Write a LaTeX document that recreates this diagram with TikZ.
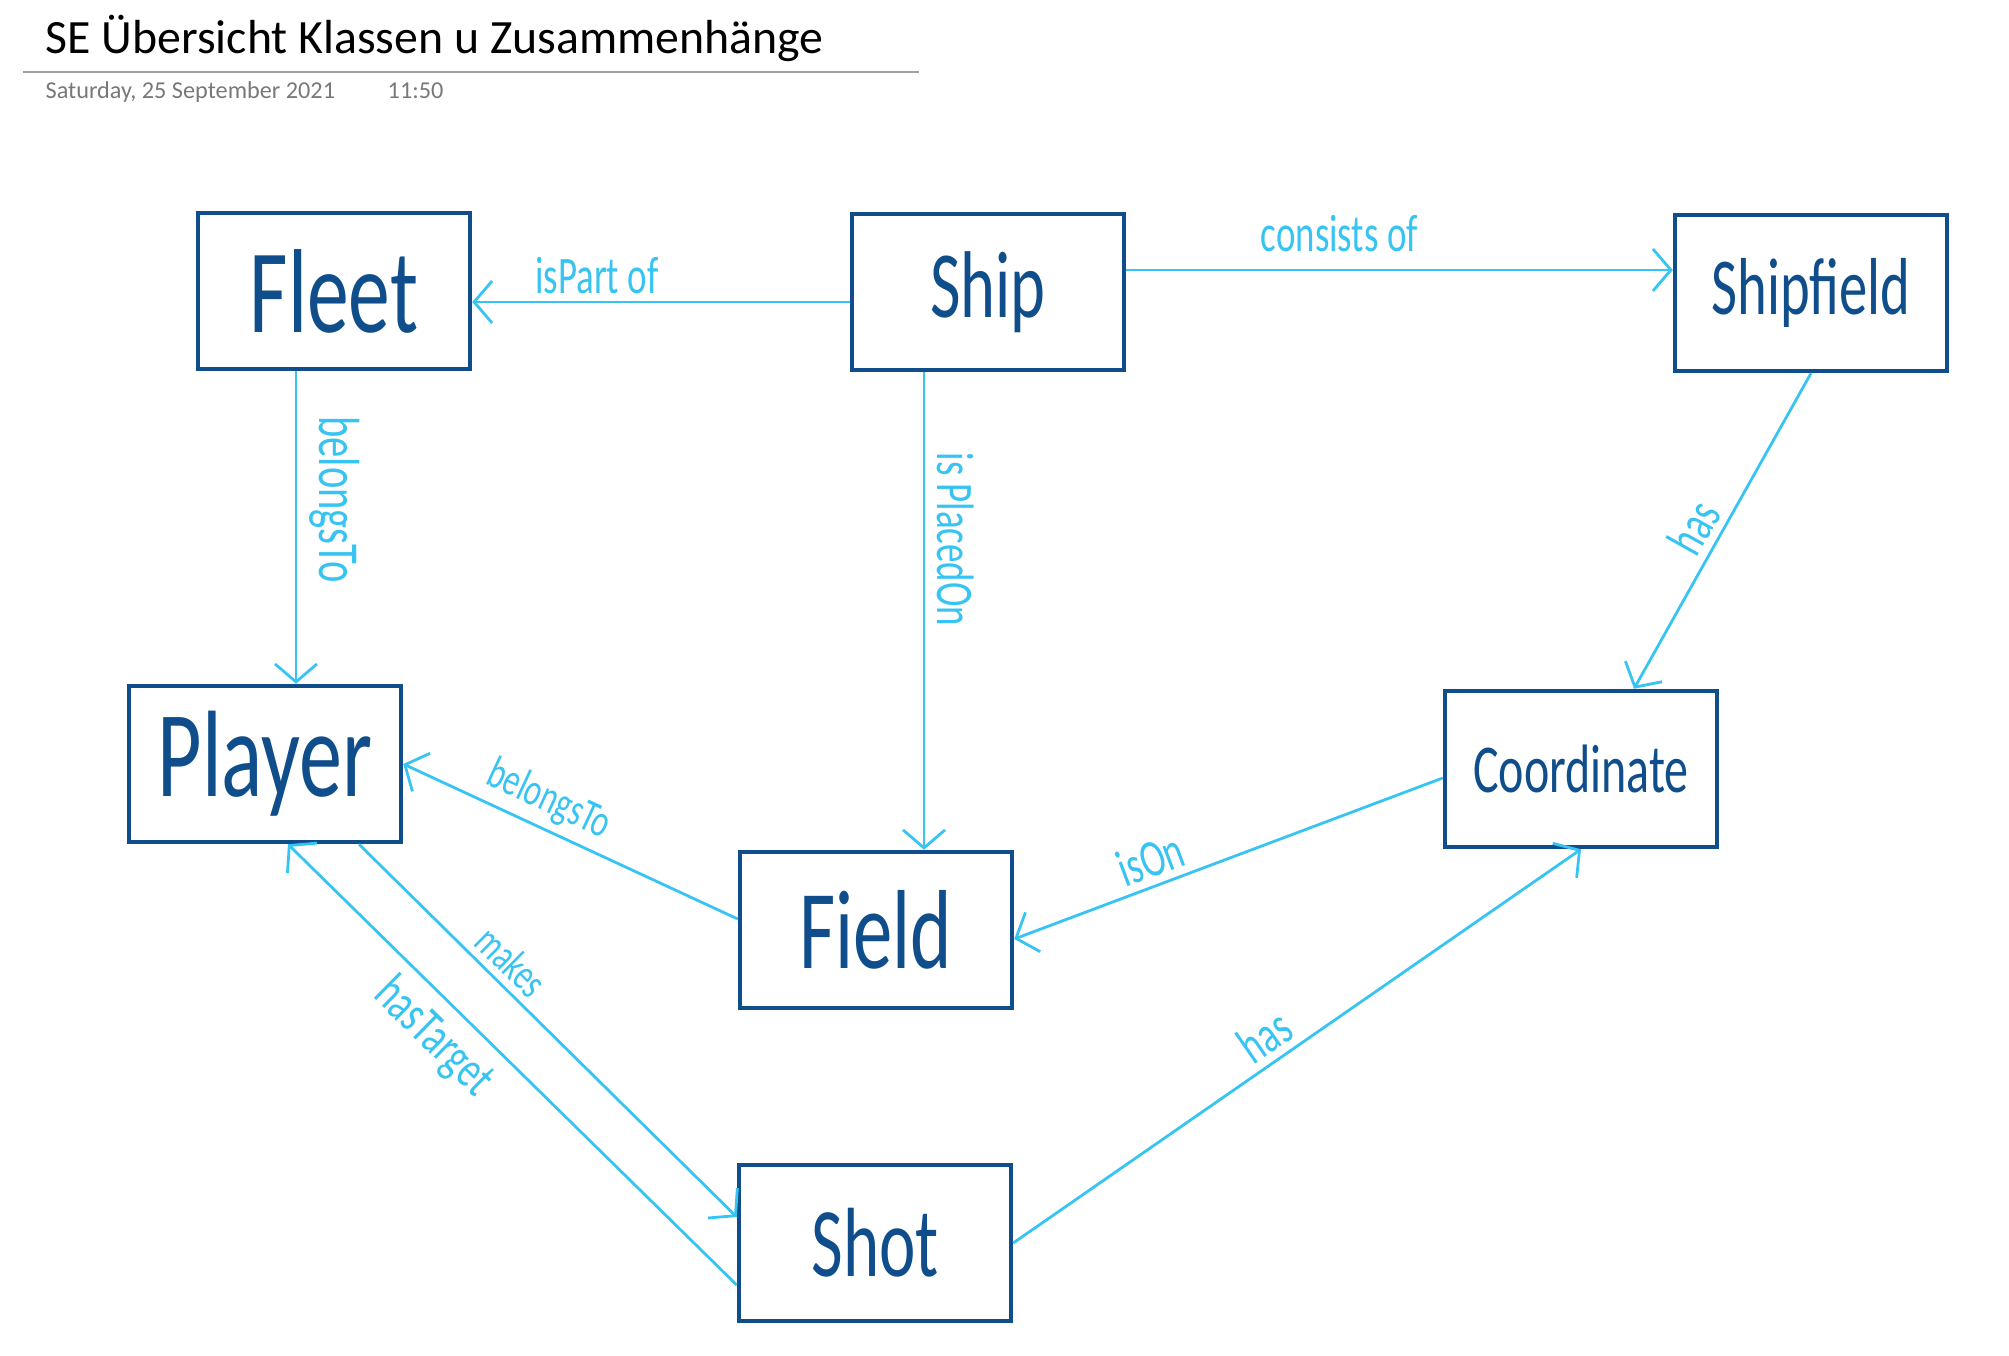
\documentclass[tikz,border=0pt]{standalone}
\usepackage{fontspec}
\setmainfont{Carlito}
\newfontfamily\handfont[FakeStretch=0.7]{Carlito}
\usetikzlibrary{arrows.meta}

\definecolor{boxblue}{RGB}{16,78,139}
\definecolor{linkblue}{RGB}{56,196,242}
\definecolor{headgray}{RGB}{120,120,120}

\newcommand{\hand}[1]{\handfont\fontsize{#1}{#1}\selectfont}

\begin{document}
\begin{tikzpicture}[x=0.1mm, y=-0.1mm,
    cls/.style={draw=boxblue, line width=0.45mm, minimum width=27.2mm, minimum height=15.6mm, inner sep=0pt, text=boxblue},
    link/.style={draw=linkblue, line width=0.28mm, -{Straight Barb[length=1.8mm, width=4.2mm]}},
    lbl/.style={text=linkblue, font=\hand{15pt}, sloped, inner sep=2pt}]
    \useasboundingbox (0,0) rectangle (2009,1356);

    % header
    \node[anchor=base west, inner sep=0pt, font=\fontsize{13.6pt}{13.6pt}\selectfont] (title) at (45,54) {SE Übersicht Klassen u Zusammenhänge};
    \draw[headgray!70, line width=0.12mm] (23,72) -- (919,72);
    \node[anchor=base west, inner sep=0pt, text=headgray, font=\fontsize{6.9pt}{6.9pt}\selectfont] (date) at (45,99) {Saturday, 25 September 2021};
    \node[anchor=base west, inner sep=0pt, text=headgray, font=\fontsize{6.9pt}{6.9pt}\selectfont] (time) at (387,99) {11:50};

    % classes
    \node[cls, font=\hand{34pt}] (fleet) at (334,291) {Fleet};
    \node[cls, font=\hand{27pt}] (ship) at (988,292) {Ship};
    \node[cls, font=\hand{23pt}] (shipfield) at (1811,293) {Shipfield};
    \node[cls, font=\hand{35pt}] (player) at (265,764) {Player};
    \node[cls, font=\hand{19.5pt}] (coord) at (1581,769) {Coordinate};
    \node[cls, font=\hand{32pt}] (field) at (876,930) {Field};
    \node[cls, font=\hand{28pt}] (shot) at (875,1243) {Shot};

    % relations
    \draw[link] ([yshift=-1mm]ship.west) -- ([yshift=-1mm]ship.west -| fleet.east) node[lbl, pos=0.67, above] {isPart of};
    \draw[link] ([yshift=2.2mm]ship.east) -- ([yshift=2.2mm]ship.east -| shipfield.west) node[lbl, pos=0.39, above=1mm] {consists of};
    \draw[link] ([xshift=-3.8mm]fleet.south) -- ([xshift=-3.8mm]fleet.south |- player.north) node[lbl, pos=0.41, above=0.5mm, font=\hand{16.5pt}] {belongsTo};
    \draw[link] ([xshift=-6.4mm]ship.south) -- ([xshift=-6.4mm]ship.south |- field.north) node[lbl, pos=0.35, above=0.5mm] {is PlacedOn};
    \draw[link] (shipfield.south) -- ([xshift=5.3mm]coord.north) node[lbl, pos=0.53, above] {has};
    \draw[link] ([yshift=1.1mm]field.west) -- (player.east) node[lbl, pos=0.6, above, font=\hand{13pt}] {belongsTo};
    \draw[link] ([yshift=-0.9mm]coord.west) -- ([yshift=-0.9mm]field.east) node[lbl, pos=0.66, above] {isOn};
    \draw[link] ([xshift=9.4mm]player.south) -- ([yshift=2.6mm]shot.west) node[lbl, pos=0.36, above, font=\hand{12.5pt}] {makes};
    \draw[link] ([yshift=-4.2mm]shot.west) -- ([xshift=2.3mm]player.south) node[lbl, pos=0.62, below=0.5mm] {hasTarget};
    \draw[link] (shot.east) -- (coord.south) node[lbl, pos=0.47, above] {has};
\end{tikzpicture}
\end{document}
